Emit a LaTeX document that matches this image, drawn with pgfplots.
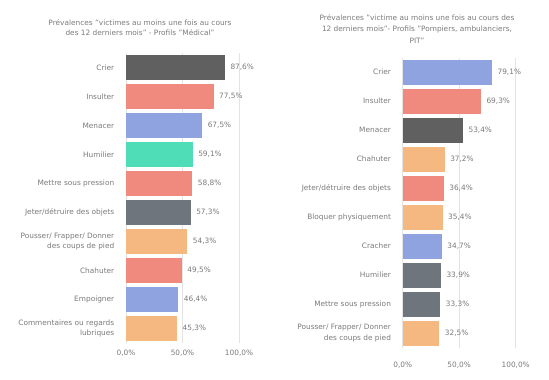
\documentclass[border=0pt]{standalone}
\usepackage{pgfplots}
\pgfplotsset{compat=1.18}
\usepackage{fontspec}
\setmainfont{DejaVu Sans}
\definecolor{cdark}{HTML}{606060}
\definecolor{csal}{HTML}{F08A7E}
\definecolor{cblue}{HTML}{8FA3E0}
\definecolor{cteal}{HTML}{4FDDB8}
\definecolor{cpeach}{HTML}{F5B880}
\definecolor{cslate}{HTML}{6E757C}
\definecolor{labelgray}{HTML}{7A7A7A}
\newcommand\lf{\fontsize{7.4}{10.8}\selectfont}
\pgfplotsset{
  mystyle/.style={
    xbar, scale only axis, width=113bp, height=290bp,
    xmin=0, xmax=100, ymin=0.5, ymax=10.5, y dir=reverse,
    bar width=25bp,
    axis line style={draw=none}, tick style={draw=none},
    xmajorgrids, grid style={draw=gray!22, line width=0.8pt},
    xtick={0,50,100}, xticklabels={{0,0\%},{50,0\%},{100,0\%}},
    ytick={1,...,10},
    tick label style={font=\lf, text=labelgray},
    yticklabel style={align=right, xshift=-4bp},
    xticklabel style={yshift=-4bp},
    nodes near coords, point meta=explicit symbolic,
    every node near coord/.append style={font=\lf, text=labelgray, anchor=west, xshift=2bp},
    clip=false,
  },
  b/.style={fill=#1, draw=none, bar shift=0pt},
}
\begin{document}
\begin{tikzpicture}
\path[use as bounding box] (0,0) rectangle (549bp,380bp);
\node[font=\fontsize{7.4}{10.2}\selectfont, text=labelgray, align=center] at (140bp,352bp)
  {Prévalences "victimes au moins une fois au cours\\des 12 derniers mois" - Profils "Médical"};
\node[font=\fontsize{7.4}{11.2}\selectfont, text=labelgray, align=center] at (417bp,351bp)
  {Prévalences "victime au moins une fois au cours des\\12 derniers mois"- Profils "Pompiers, ambulanciers,\\PIT"};
\begin{axis}[mystyle, at={(126bp,37bp)}, anchor=south west,
  yticklabels={Crier,Insulter,Menacer,Humilier,Mettre sous pression,Jeter/détruire des objets,{Pousser/ Frapper/ Donner\\des coups de pied},Chahuter,Empoigner,{Commentaires ou regards\\lubriques}}]
\addplot[b=cdark] coordinates {(87.6,1) [87,6\%]};
\addplot[b=csal] coordinates {(77.5,2) [77,5\%]};
\addplot[b=cblue] coordinates {(67.5,3) [67,5\%]};
\addplot[b=cteal] coordinates {(59.1,4) [59,1\%]};
\addplot[b=csal] coordinates {(58.8,5) [58,8\%]};
\addplot[b=cslate] coordinates {(57.3,6) [57,3\%]};
\addplot[b=cpeach] coordinates {(54.3,7) [54,3\%]};
\addplot[b=csal] coordinates {(49.5,8) [49,5\%]};
\addplot[b=cblue] coordinates {(46.4,9) [46,4\%]};
\addplot[b=cpeach] coordinates {(45.3,10) [45,3\%]};
\end{axis}
\begin{axis}[mystyle, at={(402.7bp,32.5bp)}, anchor=south west,
  xticklabel style={yshift=-7bp},
  yticklabels={Crier,Insulter,Menacer,Chahuter,Jeter/détruire des objets,Bloquer physiquement,Cracher,Humilier,Mettre sous pression,{Pousser/ Frapper/ Donner\\des coups de pied}}]
\addplot[b=cblue] coordinates {(79.1,1) [79,1\%]};
\addplot[b=csal] coordinates {(69.3,2) [69,3\%]};
\addplot[b=cdark] coordinates {(53.4,3) [53,4\%]};
\addplot[b=cpeach] coordinates {(37.2,4) [37,2\%]};
\addplot[b=csal] coordinates {(36.4,5) [36,4\%]};
\addplot[b=cpeach] coordinates {(35.4,6) [35,4\%]};
\addplot[b=cblue] coordinates {(34.7,7) [34,7\%]};
\addplot[b=cslate] coordinates {(33.9,8) [33,9\%]};
\addplot[b=cslate] coordinates {(33.3,9) [33,3\%]};
\addplot[b=cpeach] coordinates {(32.5,10) [32,5\%]};
\end{axis}
\end{tikzpicture}
\end{document}
